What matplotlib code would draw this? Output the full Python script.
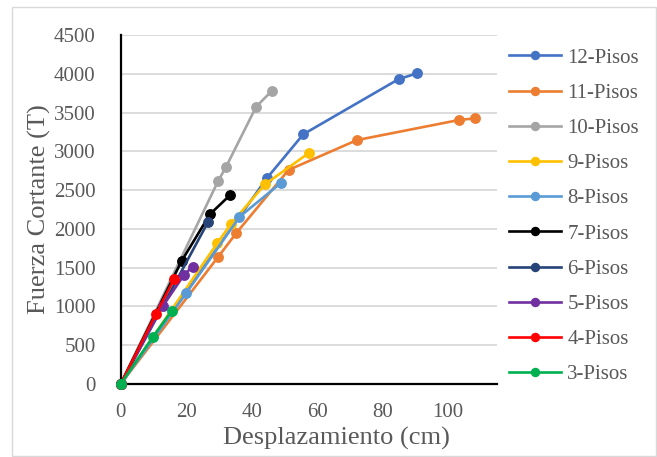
import matplotlib
matplotlib.use("Agg")
import matplotlib.pyplot as plt
from matplotlib.patches import Rectangle

# ---- data ----
labels = ["12-Pisos", "11-Pisos", "10-Pisos", "9-Pisos", "8-Pisos",
          "7-Pisos", "6-Pisos", "5-Pisos", "4-Pisos", "3-Pisos"]
colors = ["#4472C4", "#ED7D31", "#A5A5A5", "#FFC000", "#5B9BD5",
          "#000000", "#264478", "#7030A0", "#FF0000", "#00B050"]

x12 = [0, 44.6, 55.8, 84.9, 90.5]
y12 = [0, 2650, 3220, 3930, 4005]
x11 = [0, 29.8, 35.3, 51.3, 72.2, 103.5, 108.3]
y11 = [0, 1640, 1945, 2760, 3145, 3405, 3425]
x10 = [0, 29.8, 32.2, 41.4, 46.2]
y10 = [0, 2620, 2800, 3575, 3780]
x9 = [0, 29.5, 33.7, 44.1, 57.4]
y9 = [0, 1815, 2065, 2575, 2975]
x8 = [0, 20.0, 36.3, 48.9]
y8 = [0, 1170, 2155, 2590]
x7 = [0, 18.6, 27.3, 33.4]
y7 = [0, 1585, 2190, 2435]
x6 = [0, 26.7]
y6 = [0, 2090]
x5 = [0, 12.8, 19.4, 22.0]
y5 = [0, 1000, 1410, 1515]
x4 = [0, 10.8, 16.3]
y4 = [0, 905, 1350]
x3 = [0, 9.8, 15.6]
y3 = [0, 605, 945]

xs = [x12, x11, x10, x9, x8, x7, x6, x5, x4, x3]
ys = [y12, y11, y10, y9, y8, y7, y6, y5, y4, y3]

xticks = [0, 20, 40, 60, 80, 100]
yticks = [0, 500, 1000, 1500, 2000, 2500, 3000, 3500, 4000, 4500]

# ---- figure ----
W, H = 657, 457
fig = plt.figure(figsize=(W / 100, H / 100), dpi=100)
plt.rcParams['font.family'] = ['Liberation Serif', 'DejaVu Serif']
txt = "#595959"

fig.patches.append(Rectangle((12 / W, 1 / H), (656 - 12) / W, (450 - 1) / H,
                             transform=fig.transFigure, fill=False,
                             edgecolor="#D9D9D9", linewidth=1.0))

ax = fig.add_axes([120.7 / W, 1 - 384 / H, (497 - 120.7) / W, (384 - 35) / H])

for x, y, c, lab in zip(xs, ys, colors, labels):
    ax.plot(x, y, color=c, lw=1.9, marker="o", markersize=6.8,
            label=lab, clip_on=False, zorder=3)

ax.set_xlim(0, 115)
ax.set_ylim(0, 4500)
ax.set_xticks(xticks)
ax.set_yticks(yticks)
ax.grid(axis="y", color="#D9D9D9", lw=1.3)
ax.set_axisbelow(True)
for s in ["top", "right"]:
    ax.spines[s].set_visible(False)
for s in ["left", "bottom"]:
    ax.spines[s].set_color("black")
    ax.spines[s].set_linewidth(1.6)
ax.tick_params(length=0, labelsize=15, labelcolor=txt)
ax.tick_params(axis="y", pad=18)
ax.tick_params(axis="x", pad=14)

pw, ph = 497 - 120.7, 384 - 35
ax.set_xlabel("Desplazamiento (cm)", fontsize=19, color=txt)
ax.set_ylabel("Fuerza Cortante (T)", fontsize=19, color=txt)
ax.xaxis.set_label_coords((336 - 120.7) / pw, -(427 - 384) / ph)
ax.yaxis.set_label_coords(-(120.7 - 51) / pw, 0.5)

leg = fig.legend(loc="upper left", bbox_to_anchor=(509 / W, 1 - 48 / H),
                 frameon=False, fontsize=15, labelcolor=txt,
                 handlelength=2.5, handletextpad=0.3, labelspacing=0.75,
                 borderaxespad=0, borderpad=0, markerscale=0.85)

fig.savefig("out.png", dpi=100)
